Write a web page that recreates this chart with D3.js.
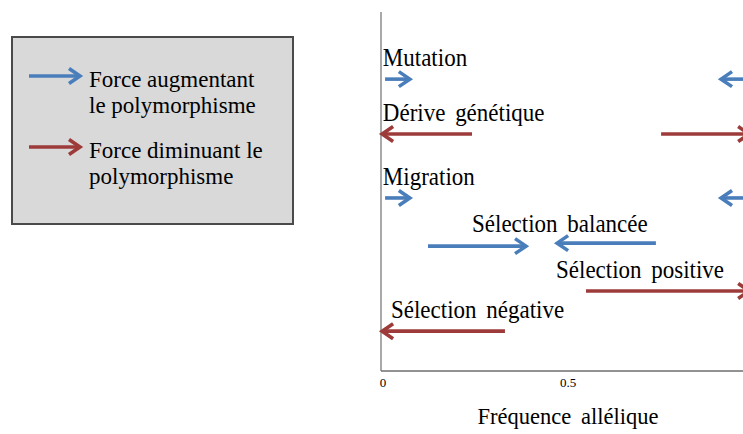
<!DOCTYPE html>
<html lang="fr">
<head>
    <meta charset="UTF-8">
    <title>Forces et polymorphisme</title>
    <style>
        body,html{
            margin:0;
            padding:0;
            border:0;
            background:#fff;
        }
        text{font-family:"Liberation Serif","Times New Roman",serif;fill:#000;}
    </style>
</head>
<body>
    <svg id="svg" width="743" height="434"></svg>
    <script type="text/javascript" src="https://cdnjs.cloudflare.com/ajax/libs/d3/7.8.5/d3.min.js"></script>
    <script type="text/javascript">
        // forces and their arrows (allele frequency from -> to)
        var forces = ["Mutation", "Dérive génétique", "Migration", "Sélection balancée", "Sélection positive", "Sélection négative"];
        var kinds = ["up", "down", "up", "up", "down", "down"];
        var levels = [81.3, 66.0, 48.2, 35.2, 22.3, 11.1];
        var labelFreq = [0.005, 0.005, 0.005, 0.246, 0.473, 0.027];
        var arrows = [
            [[0.011, 0.078], [1.0, 0.919]],
            [[0.246, 0.003], [0.757, 0.995]],
            [[0.011, 0.078], [1.0, 0.919]],
            [[0.127, 0.392], [0.743, 0.476]],
            [[0.554, 0.995]],
            [[0.335, 0.003]]
        ];
        var tickValues = [0, 0.5];
        var tickLabels = ["0", "0.5"];
        var legendLines = [["Force augmentant", "le polymorphisme"], ["Force diminuant le", "polymorphisme"]];
        var legendKinds = ["up", "down"];

        var color = {up: "#4a7ebb", down: "#9c3b39"};

        var svg = d3.select("#svg");
        var x = d3.scaleLinear().domain([0, 1]).range([381, 751]);
        var y = d3.scaleLinear().domain([0, 100]).range([371, 12]);

        function arrow(g, x1, x2, yy, c){
            var dir = x2 > x1 ? 1 : -1, L = 11, W = 7.5;
            g.append("line")
                .attr("x1", x1).attr("x2", x2 - dir*1.5)
                .attr("y1", yy).attr("y2", yy)
                .attr("stroke", c).attr("stroke-width", 3.6);
            g.append("path")
                .attr("d", "M" + (x2 - dir*L) + "," + (yy - W) + "L" + x2 + "," + yy + "L" + (x2 - dir*L) + "," + (yy + W))
                .attr("fill", "none").attr("stroke", c).attr("stroke-width", 3.6)
                .attr("stroke-linejoin", "miter");
        }

        // legend box
        var leg = svg.append("g");
        leg.append("rect").attr("x", 12).attr("y", 37).attr("width", 281).attr("height", 187)
            .attr("fill", "#d9d9d9").attr("stroke", "#4a4a4a").attr("stroke-width", 2);
        legendLines.forEach(function(lines, i){
            var ay = 76 + i*71;
            arrow(leg, 29, 80, ay, color[legendKinds[i]]);
            lines.forEach(function(t, j){
                leg.append("text").attr("x", 89).attr("y", ay + 11 + j*26)
                    .attr("font-size", 23).text(t);
            });
        });

        // axes
        svg.append("line").attr("x1", x(0)).attr("x2", x(0)).attr("y1", y(100)).attr("y2", y(0))
            .attr("stroke", "#8c8c8c").attr("stroke-width", 1.5);
        svg.append("line").attr("x1", x(0)).attr("x2", x(1)).attr("y1", y(0)).attr("y2", y(0))
            .attr("stroke", "#6e6e6e").attr("stroke-width", 1.5);
        svg.selectAll("text.tick").data(tickValues).enter().append("text")
            .attr("class", "tick")
            .attr("x", function(d){ return x(d) + 2; })
            .attr("y", 387)
            .attr("text-anchor", "middle")
            .attr("font-size", 13)
            .text(function(d, i){ return tickLabels[i]; });
        svg.append("text").attr("x", x(0.5) + 2).attr("y", 424).attr("text-anchor", "middle")
            .attr("font-size", 22.5).attr("word-spacing", 4).text("Fréquence allélique");

        // forces
        var rows = svg.selectAll("g.force").data(forces).enter().append("g").attr("class", "force");
        rows.each(function(name, i){
            var g = d3.select(this);
            var yy = y(levels[i]);
            g.append("text")
                .attr("transform", "translate(" + x(labelFreq[i]) + "," + (yy - 13) + ") scale(1,1.08)")
                .attr("font-size", 23).attr("word-spacing", 4).text(name);
            arrows[i].forEach(function(a, k){
                var off = (i === 3) ? (k === 0 ? 1.5 : -1.5) : 0;
                arrow(g, x(a[0]), x(a[1]), yy + off, color[kinds[i]]);
            });
        });
    </script>
</body>
</html>
